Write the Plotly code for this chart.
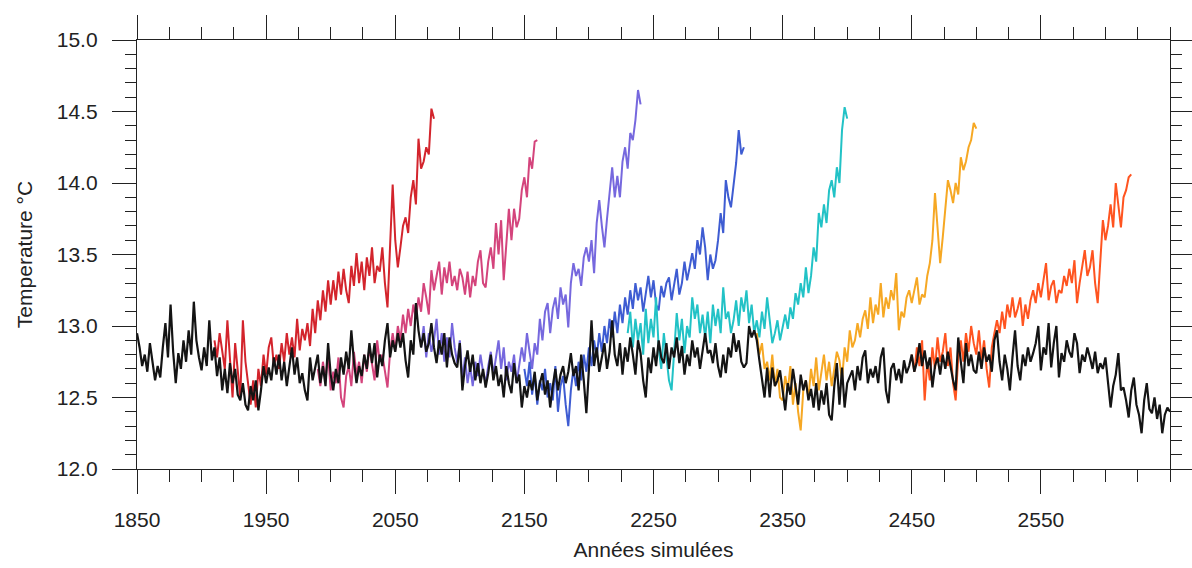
import numpy as np
import plotly.graph_objects as go

# ---------------- data (2-year sampling) ----------------
control_start = 1850
control = [
    12.95, 12.85, 12.72, 12.80, 12.68,
    12.88, 12.75, 12.62, 12.72, 12.64,
    12.85, 13.02, 12.78, 13.15, 12.82,
    12.60, 12.81, 12.70, 12.90, 12.75,
    12.97, 12.80, 13.17, 12.90, 12.78,
    12.69, 12.85, 12.72, 13.04, 12.76,
    12.85, 12.65, 12.78, 12.55, 12.70,
    12.53, 12.74, 12.60, 12.70, 12.52,
    12.48, 12.60, 12.45, 12.41, 12.58,
    12.48, 12.62, 12.41, 12.55, 12.72,
    12.60, 12.71, 12.62, 12.78, 12.66,
    12.80, 12.62, 12.75, 12.58, 12.70,
    12.85, 12.66, 12.78, 12.60, 12.67,
    12.55, 12.48, 12.78, 12.62, 12.71,
    12.80, 12.60, 12.72, 12.58, 12.88,
    12.66, 12.55, 12.70, 12.60, 12.78,
    12.66, 12.82, 12.70, 12.97, 12.75,
    12.60, 12.72, 12.65, 12.80, 12.70,
    12.88, 12.74, 12.88, 12.64, 12.80,
    12.72, 12.90, 13.02, 12.78, 12.90,
    12.82, 12.95, 12.85, 12.95, 12.76,
    12.64, 12.90, 12.80, 13.16, 12.97,
    12.85, 12.95, 12.82, 12.88, 13.02,
    12.85, 12.74, 12.90, 12.80, 12.95,
    12.71, 12.92, 12.80, 12.74, 12.71,
    12.88, 12.55, 12.72, 12.83, 12.68,
    12.80, 12.62, 12.74, 12.60, 12.70,
    12.57, 12.67, 12.80, 12.62, 12.72,
    12.58, 12.66, 12.50, 12.72, 12.60,
    12.53, 12.74, 12.60, 12.66, 12.43,
    12.58, 12.50, 12.62, 12.55, 12.68,
    12.48, 12.60, 12.67, 12.52, 12.62,
    12.43, 12.58, 12.70, 12.55, 12.66,
    12.72, 12.60, 12.68, 12.81, 12.65,
    12.72, 12.55, 12.80, 12.62, 12.39,
    12.70, 13.04, 12.72, 12.85, 12.68,
    12.78, 12.88, 12.70, 12.82, 13.04,
    12.80, 12.72, 12.88, 12.66, 12.85,
    12.75, 12.92, 12.80, 12.66, 12.90,
    12.81, 12.62, 12.50, 12.78, 12.67,
    12.85, 12.72, 12.90, 12.78, 12.74,
    12.88, 12.70, 12.85, 12.78, 12.92,
    12.74, 12.86, 12.66, 12.80, 12.72,
    12.90, 12.78, 12.85, 12.70, 12.82,
    12.95, 12.81, 12.83, 12.74, 12.88,
    12.72, 12.64, 12.80, 12.67, 12.85,
    12.78, 12.95, 12.82, 12.90, 12.75,
    12.71, 12.74, 13.00, 12.92, 12.97,
    12.90, 12.76, 12.62, 12.50, 12.71,
    12.50, 12.71, 12.58, 12.62, 12.69,
    12.55, 12.41, 12.60, 12.52, 12.70,
    12.58, 12.45, 12.66, 12.55, 12.62,
    12.48, 12.56, 12.43, 12.60, 12.41,
    12.55, 12.45, 12.60, 12.38, 12.34,
    12.58, 12.74, 12.45, 12.71, 12.43,
    12.60, 12.64, 12.69, 12.55, 12.72,
    12.62, 12.78, 12.83, 12.60, 12.70,
    12.64, 12.72, 12.60, 12.78, 12.85,
    12.55, 12.46, 12.70, 12.74, 12.62,
    12.70, 12.60, 12.76, 12.67, 12.72,
    12.80, 12.68, 12.75, 12.88, 12.72,
    12.83, 12.70, 12.78, 12.57, 12.72,
    12.78, 12.66, 12.80, 12.70, 12.82,
    12.72, 12.62, 12.55, 12.92, 12.75,
    12.60, 12.88, 12.72, 12.80, 12.69,
    12.67, 12.82, 12.70, 12.85, 12.75,
    12.80, 12.68, 12.90, 12.97, 12.75,
    12.62, 12.80, 12.70, 12.55, 12.78,
    12.97, 12.72, 12.62, 12.80, 12.72,
    12.85, 12.75, 12.81, 12.88, 13.00,
    12.69, 12.85, 12.80, 13.02, 12.71,
    12.88, 13.00, 12.64, 12.81, 12.75,
    12.90, 12.82, 12.78, 12.95, 12.88,
    12.67, 12.80, 12.75, 12.85, 12.78,
    12.70, 12.82, 12.67, 12.74, 12.70,
    12.78, 12.62, 12.43, 12.58, 12.66,
    12.81, 12.55, 12.57, 12.48, 12.36,
    12.55, 12.64, 12.45, 12.38, 12.25,
    12.48, 12.60, 12.42, 12.39, 12.50,
    12.35, 12.45, 12.25, 12.38, 12.43,
    12.40,
]

red_start = 1910
red = [
    12.90, 12.78, 12.95, 12.82, 12.70,
    13.04, 12.80, 12.50, 12.88, 12.70,
    12.50, 13.04, 12.75, 12.60, 12.45,
    12.62, 12.43, 12.70, 12.58, 12.80,
    12.66, 12.85, 12.92, 12.72, 12.80,
    12.70, 12.88, 12.75, 12.95, 12.80,
    12.92, 12.78, 13.05, 12.83, 12.98,
    12.90, 13.02, 12.86, 13.12, 12.95,
    13.18, 13.04, 13.25, 13.10, 13.32,
    13.15, 13.32, 13.18, 13.38, 13.22,
    13.40, 13.25, 13.16, 13.42, 13.28,
    13.51, 13.30, 13.45, 13.25, 13.48,
    13.35, 13.55, 13.30, 13.42, 13.38,
    13.55, 13.30, 13.13, 13.60, 13.99,
    13.60, 13.41, 13.55, 13.70, 13.76,
    13.65, 13.90, 14.02, 13.85, 14.31,
    14.10, 14.15, 14.25, 14.20, 14.52,
    14.45,
]

pink_start = 1990
pink = [
    12.70, 12.58, 12.75, 12.62, 12.80,
    12.55, 12.68, 12.60, 12.78, 12.50,
    12.43, 12.65, 12.72, 12.58, 12.82,
    12.66, 12.75, 12.60, 12.80, 12.68,
    12.85, 12.72, 12.62, 12.90, 12.75,
    12.80, 12.68, 12.57, 12.82, 12.95,
    12.83, 13.00, 12.90, 13.08, 12.95,
    13.12, 13.00, 13.15, 13.05, 13.20,
    13.10, 13.30, 13.20, 13.08, 13.39,
    13.25, 13.35, 13.45, 13.22, 13.41,
    13.30, 13.45, 13.28, 13.35, 13.25,
    13.40, 13.34, 13.22, 13.38, 13.20,
    13.35, 13.28, 13.45, 13.53, 13.30,
    13.27, 13.45, 13.55, 13.40, 13.72,
    13.50, 13.74, 13.32, 13.55, 13.82,
    13.60, 13.82, 13.69, 13.75, 13.95,
    14.04, 13.90, 14.18, 14.10, 14.29,
    14.30,
]

purple_start = 2070
purple = [
    12.85, 13.00, 12.78, 12.95, 12.82,
    12.90, 13.05, 12.80, 12.95, 12.75,
    12.92, 12.78, 13.02, 12.85, 12.74,
    12.90, 12.62, 12.78, 12.60, 12.72,
    12.58, 12.75, 12.65, 12.80, 12.68,
    12.60, 12.72, 12.82, 12.66, 12.78,
    12.90, 12.70, 12.85, 12.62, 12.75,
    12.68, 12.80, 12.60, 12.72, 12.85,
    12.75, 12.95, 12.82, 12.70, 12.88,
    12.80, 13.05, 12.90, 13.10, 13.16,
    12.95, 13.12, 13.20, 13.05, 13.27,
    13.15, 13.22, 12.99, 13.30, 13.44,
    13.35, 13.40, 13.28, 13.48, 13.55,
    13.45, 13.60, 13.37, 13.72, 13.88,
    13.70, 13.55, 13.75, 13.95, 14.11,
    13.90, 14.05, 13.90, 14.15, 14.25,
    14.10, 14.35, 14.30, 14.44, 14.65,
    14.55,
]

blue_start = 2150
blue = [
    12.70, 12.58, 12.75, 12.52, 12.66,
    12.45, 12.62, 12.55, 12.70, 12.50,
    12.60, 12.48, 12.72, 12.40, 12.58,
    12.65, 12.45, 12.30, 12.55, 12.70,
    12.58, 12.75, 12.62, 12.80, 12.68,
    12.85, 12.72, 12.90, 12.78, 12.95,
    12.82, 13.00, 12.88, 13.05, 12.92,
    13.10, 12.95, 13.15, 13.02, 13.20,
    13.08, 13.25, 13.12, 13.30, 13.18,
    13.27, 13.10, 13.22, 13.35, 13.20,
    13.32, 13.15, 13.11, 13.28, 13.20,
    13.30, 13.34, 13.18, 13.28, 13.40,
    13.22, 13.30, 13.45, 13.32, 13.41,
    13.51, 13.40, 13.60, 13.50, 13.69,
    13.55, 13.32, 13.50, 13.40, 13.46,
    13.60, 13.79, 13.65, 14.02, 13.90,
    13.83, 14.00, 14.14, 14.37, 14.20,
    14.25,
]

cyan_start = 2230
cyan = [
    12.95, 13.10, 12.85, 13.05, 12.90,
    13.02, 12.80, 13.12, 12.88, 13.05,
    12.92, 13.20, 12.85, 12.70, 12.95,
    12.80, 12.62, 12.55, 12.85, 13.09,
    12.90, 13.05, 12.81, 13.00, 12.92,
    13.20, 13.05, 13.15, 12.95, 13.08,
    12.92, 13.10, 12.88, 13.15, 13.00,
    13.12, 12.95, 13.27, 13.05, 13.10,
    12.95, 13.04, 13.18, 13.00, 13.20,
    13.10, 13.25, 13.02, 13.15, 12.95,
    13.04, 12.92, 13.10, 12.98, 13.20,
    13.05, 12.88, 12.95, 13.04, 12.90,
    13.00, 13.08, 12.98, 13.13, 13.05,
    13.23, 13.15, 13.30, 13.20, 13.41,
    13.23, 13.35, 13.55, 13.45, 13.79,
    13.69, 13.85, 13.72, 13.95, 14.02,
    13.90, 14.11, 14.00, 14.37, 14.53,
    14.45,
]

orange_start = 2330
orange = [
    12.95, 12.80, 12.88, 12.70, 12.75,
    12.62, 12.80, 12.58, 12.70, 12.50,
    12.48, 12.65, 12.55, 12.72, 12.45,
    12.60, 12.40, 12.27, 12.55, 12.62,
    12.50, 12.70, 12.58, 12.78, 12.55,
    12.68, 12.80, 12.62, 12.75, 12.58,
    12.70, 12.82, 12.76, 12.62, 12.85,
    12.75, 12.97, 12.85, 12.90, 13.02,
    12.92, 13.05, 13.11, 12.98, 13.20,
    13.02, 13.15, 13.08, 13.30, 13.06,
    13.20, 13.12, 13.25, 13.18, 13.37,
    12.97, 13.10, 13.06, 13.20, 13.25,
    13.16, 13.25, 13.34, 13.15, 13.22,
    13.20, 13.35, 13.44, 13.60, 13.93,
    13.70, 13.44, 13.62, 13.85, 14.02,
    13.95, 13.86, 14.00, 13.92, 14.18,
    14.09, 14.15, 14.25, 14.30, 14.42,
    14.38,
]

orangered_start = 2450
orangered = [
    12.80, 12.68, 12.85, 12.72, 12.90,
    12.48, 12.75, 12.62, 12.85, 12.70,
    12.92, 12.75, 12.82, 12.95, 12.72,
    12.85, 12.60, 12.48, 12.78, 12.90,
    12.75, 12.95, 12.82, 13.00, 12.88,
    12.80, 12.97, 12.76, 12.90, 12.70,
    12.57, 12.85, 12.95, 13.04, 12.95,
    13.10, 12.98, 13.15, 13.06, 13.20,
    13.06, 13.12, 13.20, 13.00, 13.15,
    13.05, 13.18, 13.25, 13.16, 13.30,
    13.20, 13.32, 13.44, 13.18, 13.28,
    13.32, 13.16, 13.25, 13.23, 13.35,
    13.28, 13.40, 13.30, 13.46, 13.16,
    13.30, 13.41, 13.53, 13.35, 13.41,
    13.53, 13.30, 13.16, 13.45, 13.74,
    13.60, 13.70, 13.85, 13.69, 14.00,
    13.83, 13.69, 13.90, 13.95, 14.04,
    14.06,
]

x_tickvals = [1850, 1950, 2050, 2150, 2250, 2350, 2450, 2550]
x_ticktext = ["1850", "1950", "2050", "2150", "2250", "2350", "2450", "2550"]
y_tickvals = [12.0, 12.5, 13.0, 13.5, 14.0, 14.5, 15.0]
y_ticktext = ["12.0", "12.5", "13.0", "13.5", "14.0", "14.5", "15.0"]

runs = [
    (red_start, red, "#d3242c"),
    (pink_start, pink, "#d4447c"),
    (purple_start, purple, "#7668de"),
    (blue_start, blue, "#3e5cd2"),
    (cyan_start, cyan, "#22c2c6"),
    (orange_start, orange, "#f6a824"),
    (orangered_start, orangered, "#ff5420"),
]

fig = go.Figure()


def years(start, vals):
    return np.arange(start, start + 2 * len(vals), 2)


for start, vals, col in runs:
    fig.add_trace(go.Scatter(x=years(start, vals), y=vals, mode="lines",
                             line=dict(color=col, width=2), showlegend=False,
                             hoverinfo="skip"))

fig.add_trace(go.Scatter(x=years(control_start, control), y=control, mode="lines",
                         line=dict(color="#141414", width=2.2), showlegend=False,
                         hoverinfo="skip"))

font_family = "Liberation Sans, Arial, Helvetica, sans-serif"
axis_common = dict(
    showline=True, linecolor="#222", linewidth=1.3, mirror="ticks",
    ticks="outside", tickcolor="#222", tickwidth=1.3, ticklen=24,
    showgrid=False, zeroline=False, automargin=False,
    tickfont=dict(family=font_family, size=21, color="#222"),
)

fig.update_xaxes(
    range=[1850, 2650], tickvals=x_tickvals, ticktext=x_ticktext,
    minor=dict(ticks="outside", ticklen=12, dtick=25, tick0=1850,
               tickcolor="#222", tickwidth=1.3, showgrid=False),
    title=dict(text="Années simulées", font=dict(family=font_family, size=21, color="#222"),
               standoff=11),
    ticklabelstandoff=8,
    **axis_common,
)
fig.update_yaxes(
    range=[12.0, 15.0], tickvals=y_tickvals, ticktext=y_ticktext,
    minor=dict(ticks="outside", ticklen=11, dtick=0.1, tick0=12.0,
               tickcolor="#222", tickwidth=1.3, showgrid=False),
    title=dict(text="Temperature °C", font=dict(family=font_family, size=21, color="#222"),
               standoff=18),
    ticklabelstandoff=10,
    **axis_common,
)

fig.update_layout(
    width=1192, height=568,
    margin=dict(l=137, r=22, t=40, b=99),
    paper_bgcolor="white", plot_bgcolor="white",
)

fig.write_html("out.html")
